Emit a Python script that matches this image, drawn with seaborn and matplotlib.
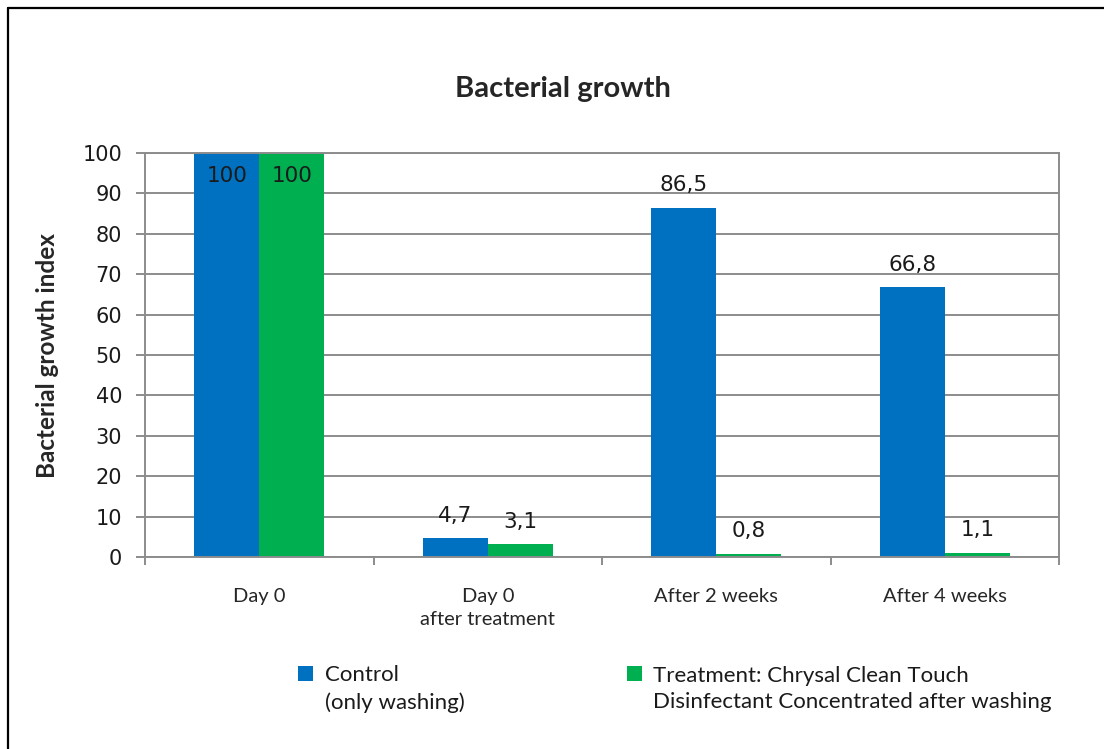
import matplotlib
matplotlib.use('Agg')
import matplotlib.pyplot as plt
from matplotlib.patches import Rectangle
from matplotlib.lines import Line2D
import seaborn as sns
import pandas as pd

categories = ['Day 0', 'Day 0\nafter treatment', 'After 2 weeks', 'After 4 weeks']
control = [100, 4.7, 86.5, 66.8]
treatment = [100, 3.1, 0.8, 1.1]
series_names = ['Control\n(only washing)',
                'Treatment: Chrysal Clean Touch\nDisinfectant Concentrated after washing']
colors = ['#0070C0', '#00B050']
yticks = list(range(0, 101, 10))

W, H = 1104, 749

df = pd.DataFrame({
    'category': categories * 2,
    'value': control + treatment,
    'series': [series_names[0]] * len(categories) + [series_names[1]] * len(categories),
})

sns.set_theme(style='white')
plt.rcParams['font.family'] = ['DejaVu Sans']

fig = plt.figure(figsize=(W / 100, H / 100), dpi=100)
ax = fig.add_axes([145 / W, 1 - 557 / H, (1059 - 145) / W, (557 - 153) / H])

sns.barplot(data=df, x='category', y='value', hue='series', order=categories,
            hue_order=series_names, palette=colors, width=0.57, gap=0,
            saturation=1, linewidth=0, errorbar=None, legend=False, ax=ax)

grey = '#8c8c8c'
ax.set_xlim(-0.5, len(categories) - 0.5)
ax.set_ylim(0, 100)
ax.set_yticks(yticks)
ax.yaxis.grid(True, color=grey, lw=1.4)
ax.set_axisbelow(True)
for s in ax.spines.values():
    s.set_color(grey)
    s.set_linewidth(1.4)
ax.tick_params(axis='y', which='major', direction='out', length=6.5, width=1.4,
               color=grey, labelsize=15, pad=10, left=True)
ax.tick_params(axis='x', which='major', length=0, pad=22)
ax.set_xticks([i + 0.5 for i in range(-1, len(categories))], minor=True)
ax.tick_params(axis='x', which='minor', direction='out', length=6, width=1.4,
               color=grey, bottom=True)
ax.set_xticklabels(categories, fontfamily='Lato', fontsize=14.5, linespacing=1.45)
for lab in ax.get_yticklabels():
    lab.set_color('#1a1a1a')
ax.set_xlabel('')
ax.set_ylabel('')

# data labels
for cont, vals in zip(ax.containers, [control, treatment]):
    for bar, v in zip(cont, vals):
        x = bar.get_x() + bar.get_width() / 2
        txt = f'{v:g}'.replace('.', ',')
        if v >= 95:
            ax.annotate(txt, (x, v), xytext=(0, -9), textcoords='offset points',
                        ha='center', va='top', fontsize=15.5, color='#1a1a1a')
        else:
            ax.annotate(txt, (x, v), xytext=(0, 9), textcoords='offset points',
                        ha='center', va='bottom', fontsize=15.5, color='#1a1a1a')

fig.text(563 / W, 1 - 89 / H, 'Bacterial growth', ha='center', va='center',
         fontfamily='Lato', fontweight='bold', fontsize=21)
fig.text(48 / W, 1 - 356 / H, 'Bacterial growth index', rotation=90,
         ha='center', va='center', fontfamily='Lato', fontweight='bold', fontsize=17.5)

# legend drawn by hand so the marker sits on the first line
legend_x = [(298, 325), (627, 653)]
for (sx, tx), name, c in zip(legend_x, series_names, colors):
    fig.add_artist(Rectangle((sx / W, 1 - 681 / H), 15 / W, 15 / H,
                             transform=fig.transFigure, color=c, lw=0))
    fig.text(tx / W, 1 - 689 / H, name, ha='left', va='center',
             fontfamily='Lato', fontsize=16, linespacing=1.4, color='#1a1a1a')

# outer frame (only left and top edges visible)
fig.add_artist(Line2D([8 / W, 8 / W], [0, 1 - 8 / H], transform=fig.transFigure,
                      color='black', lw=1.6))
fig.add_artist(Line2D([8 / W, 1], [1 - 8 / H, 1 - 8 / H], transform=fig.transFigure,
                      color='black', lw=1.6))

fig.savefig('out.png', dpi=100)
